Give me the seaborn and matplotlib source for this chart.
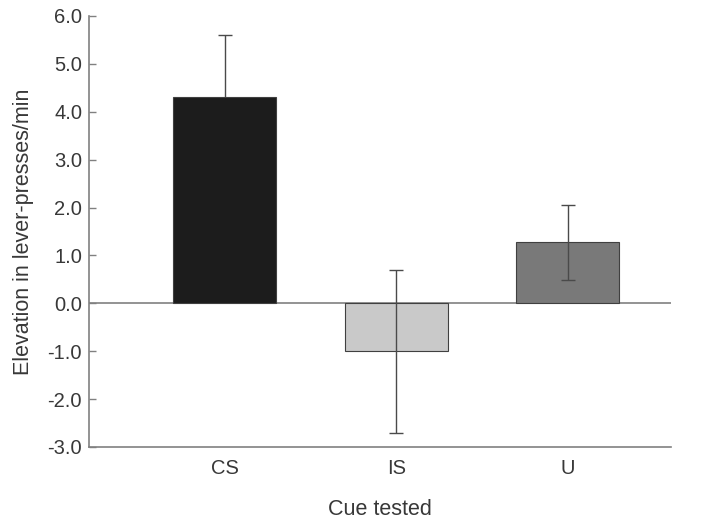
import matplotlib
matplotlib.use("Agg")
import matplotlib.pyplot as plt
import matplotlib.colors as mcolors
import seaborn as sns
import pandas as pd

categories = ["CS", "IS", "U"]
means = [4.30, -1.00, 1.27]
errors = [1.30, 1.70, 0.79]
bar_colors = ["#1c1c1c", "#c9c9c9", "#797979"]
yticks = [-3.0, -2.0, -1.0, 0.0, 1.0, 2.0, 3.0, 4.0, 5.0, 6.0]

sns.set_style("white")
plt.rcParams["font.family"] = ["Liberation Sans", "DejaVu Sans"]

df = pd.DataFrame({"cue": categories, "value": means})

fig = plt.figure(figsize=(7.14, 5.24), dpi=100)
ax = fig.add_axes([0.1246, 0.147, 0.815, 0.8225])

sns.barplot(data=df, x="cue", y="value", hue="cue", palette=bar_colors,
            order=categories, hue_order=categories, errorbar=None,
            width=0.6, edgecolor="#404040", linewidth=0.8, legend=False, ax=ax,
            zorder=2)

err_color = "#4a4a4a"
err_lum = sum(mcolors.to_rgb(err_color)) / 3
for i, (m, e, c) in enumerate(zip(means, errors, bar_colors)):
    darker_than_err = sum(mcolors.to_rgb(c)) / 3 < err_lum
    ax.errorbar([i], [m], yerr=[e], fmt="none", ecolor=err_color,
                elinewidth=1.0, capsize=4.8, capthick=1.0,
                zorder=1.5 if darker_than_err else 3)

ax.axhline(0, color="#808080", linewidth=1.2, zorder=1)

ax.set_xlim(-0.79, 2.6)
ax.set_ylim(-3.0, 6.0)
ax.set_yticks(yticks)
ax.set_yticklabels([f"{t:.1f}" for t in yticks])

for s in ["top", "right"]:
    ax.spines[s].set_visible(False)
for s in ["left", "bottom"]:
    ax.spines[s].set_color("#808080")
    ax.spines[s].set_linewidth(1.2)

ax.tick_params(axis="y", which="major", direction="in", length=5, width=1,
               color="#808080", labelsize=14.5, labelcolor="#383838", pad=5, left=True)
ax.tick_params(axis="x", which="major", length=0, labelsize=14.5,
               labelcolor="#383838", pad=9)

ax.set_xlabel("Cue tested", fontsize=15.5, color="#383838", labelpad=15)
ax.set_ylabel("Elevation in lever-presses/min", fontsize=15.5, color="#383838",
              labelpad=10)

fig.savefig("out.png", dpi=100)
